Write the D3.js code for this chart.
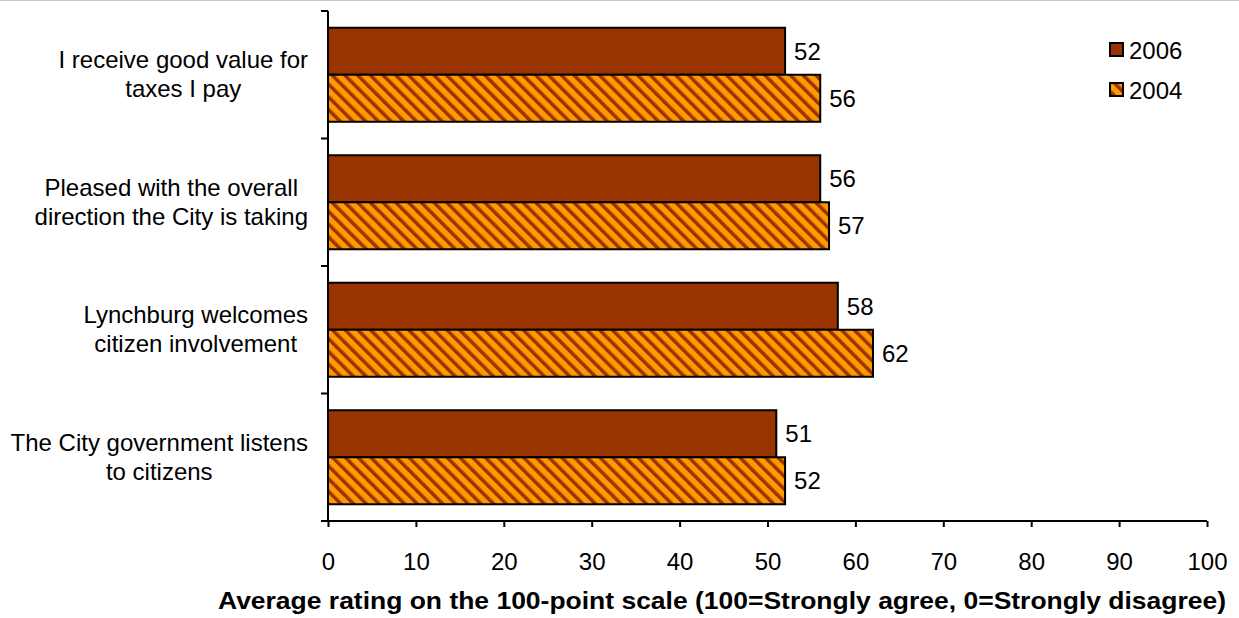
<!DOCTYPE html>
<html>
<head>
<meta charset="utf-8">
<script src="https://cdn.jsdelivr.net/npm/d3@7"></script>
<style>
  body { margin: 0; background: #fff; }
  text { font-family: "Liberation Sans", Arial, sans-serif; }
</style>
</head>
<body>
<div id="chart"></div>
<script>
const categories = [
  ['I receive good value for', 'taxes I pay'],
  ['Pleased with the overall', 'direction the City is taking'],
  ['Lynchburg welcomes', 'citizen involvement'],
  ['The City government listens', 'to citizens']
];
const values2006 = [52, 56, 58, 51];
const values2004 = [56, 57, 62, 52];
const seriesNames = ['2006', '2004'];
const xTicks = [0, 10, 20, 30, 40, 50, 60, 70, 80, 90, 100];

const width = 1239;
const height = 618;
const plotLeft = 328, plotRight = 1207, plotTop = 11, plotBottom = 521;
const fontSize = '24px';

const svg = d3.select('#chart').append('svg')
  .attr('width', width)
  .attr('height', height);

const defs = svg.append('defs');
const pat = defs.append('pattern')
  .attr('id', 'hatch')
  .attr('patternUnits', 'userSpaceOnUse')
  .attr('width', 9)
  .attr('height', 9)
  .attr('patternTransform', 'rotate(-45)');
pat.append('rect').attr('width', 9).attr('height', 9).attr('fill', '#FF9900');
pat.append('rect').attr('x', 0).attr('y', 0).attr('width', 3.5).attr('height', 9).attr('fill', '#993300');

// thin gray line at the very top
svg.append('line')
  .attr('x1', 0).attr('x2', width)
  .attr('y1', 0.5).attr('y2', 0.5)
  .attr('stroke', '#c8c8c8').attr('stroke-width', 1);

const x = d3.scaleLinear().domain([0, 100]).range([plotLeft, plotRight]);
const y = d3.scaleBand().domain(d3.range(categories.length)).range([plotTop, plotBottom]);
const inner = d3.scaleBand().domain(seriesNames).range([0, y.bandwidth()]).paddingInner(0).paddingOuter(0.356);

const series = [
  { name: '2006', values: values2006, fill: '#993300' },
  { name: '2004', values: values2004, fill: 'url(#hatch)' }
];

series.forEach(s => {
  const g = svg.append('g');
  g.selectAll('rect')
    .data(s.values)
    .enter()
    .append('rect')
    .attr('x', x(0))
    .attr('y', (d, i) => y(i) + inner(s.name))
    .attr('width', d => x(d) - x(0))
    .attr('height', inner.bandwidth())
    .attr('fill', s.fill)
    .attr('stroke', '#000')
    .attr('stroke-width', 2);

  g.selectAll('text')
    .data(s.values)
    .enter()
    .append('text')
    .attr('x', d => x(d) + 9)
    .attr('y', (d, i) => y(i) + inner(s.name) + inner.bandwidth() / 2)
    .attr('dominant-baseline', 'central')
    .attr('font-size', fontSize)
    .attr('fill', '#000')
    .text(d => d);
});

// x axis
const xAxis = svg.append('g')
  .attr('transform', `translate(0,${plotBottom})`)
  .call(d3.axisBottom(x).tickValues(xTicks).tickSize(6).tickPadding(26).tickSizeOuter(0));
xAxis.select('.domain').attr('stroke', '#000').attr('stroke-width', 2).attr('d', `M${plotLeft - 7},0H${plotRight}`);
xAxis.selectAll('.tick line').attr('stroke', '#000').attr('stroke-width', 2);
xAxis.selectAll('.tick text').attr('font-size', fontSize).attr('fill', '#000')
  .style('font-family', '"Liberation Sans", Arial, sans-serif');

// y axis
const yAxisG = svg.append('g');
yAxisG.append('line')
  .attr('x1', plotLeft).attr('x2', plotLeft)
  .attr('y1', plotTop).attr('y2', plotBottom)
  .attr('stroke', '#000').attr('stroke-width', 2);
yAxisG.selectAll('.ytick')
  .data(d3.range(categories.length + 1))
  .enter()
  .append('line')
  .attr('x1', plotLeft - 7).attr('x2', plotLeft)
  .attr('y1', i => i < categories.length ? y(i) : plotBottom)
  .attr('y2', i => i < categories.length ? y(i) : plotBottom)
  .attr('stroke', '#000').attr('stroke-width', 2);

// category labels: lines centred on each other, block right-aligned near the axis
const labels = svg.append('g');
categories.forEach((lines, i) => {
  const cy = y(i) + y.bandwidth() / 2;
  const t = labels.append('text')
    .attr('text-anchor', 'middle')
    .attr('font-size', fontSize)
    .attr('fill', '#000');
  const spans = lines.map((line, k) => t.append('tspan')
    .attr('y', cy - 15 + k * 29)
    .attr('dominant-baseline', 'central')
    .text(line));
  const widest = d3.max(spans, sp => sp.node().getComputedTextLength());
  spans.forEach(sp => sp.attr('x', 308 - widest / 2));
});

// axis title
svg.append('text')
  .attr('x', 722)
  .attr('y', 609)
  .attr('text-anchor', 'middle')
  .attr('font-size', '24px')
  .attr('font-weight', 'bold')
  .attr('fill', '#000')
  .attr('textLength', 1008)
  .attr('lengthAdjust', 'spacingAndGlyphs')
  .text('Average rating on the 100-point scale (100=Strongly agree, 0=Strongly disagree)');

// legend
const legend = svg.append('g').attr('transform', 'translate(1110,43)');
series.forEach((s, i) => {
  legend.append('rect')
    .attr('x', 0).attr('y', i * 40)
    .attr('width', 13).attr('height', 13)
    .attr('fill', s.fill)
    .attr('stroke', '#000').attr('stroke-width', 2);
  legend.append('text')
    .attr('x', 19).attr('y', i * 40 + 7)
    .attr('dominant-baseline', 'central')
    .attr('font-size', fontSize)
    .attr('fill', '#000')
    .text(s.name);
});
</script>
</body>
</html>
